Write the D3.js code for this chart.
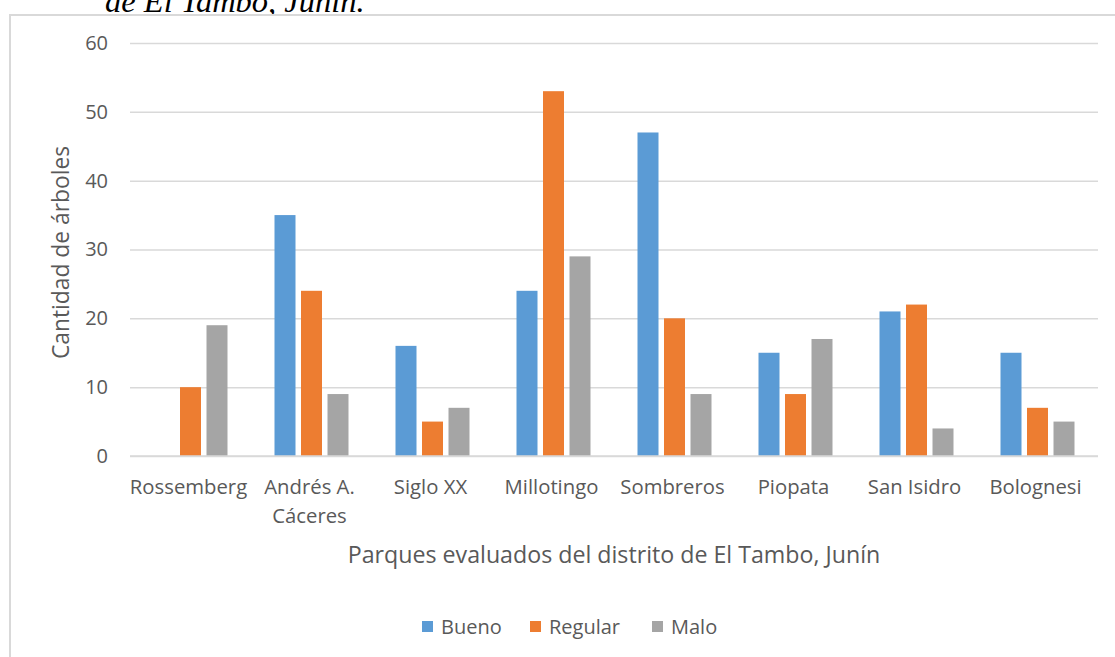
<!DOCTYPE html>
<html>
<head>
<meta charset="utf-8">
<script src="https://cdn.jsdelivr.net/npm/d3@7"></script>
<style>
  html, body { margin: 0; padding: 0; background: #fff; }
  svg { display: block; }
</style>
</head>
<body>
<svg id="chart" width="1115" height="657"></svg>
<script>
// Parks evaluated and tree condition counts
const categories = ["Rossemberg", "Andrés A. Cáceres", "Siglo XX", "Millotingo", "Sombreros", "Piopata", "San Isidro", "Bolognesi"];
const categoryLines = [["Rossemberg"], ["Andrés A.", "Cáceres"], ["Siglo XX"], ["Millotingo"], ["Sombreros"], ["Piopata"], ["San Isidro"], ["Bolognesi"]];
const seriesNames = ["Bueno", "Regular", "Malo"];
const bueno   = [0, 35, 16, 24, 47, 15, 21, 15];
const regular = [10, 24, 5, 53, 20, 9, 22, 7];
const malo    = [19, 9, 7, 29, 9, 17, 4, 5];
const yTicks = [0, 10, 20, 30, 40, 50, 60];
const colors = ["#5B9BD5", "#ED7D31", "#A5A5A5"];

const seriesValues = [bueno, regular, malo];
const svg = d3.select("#chart");
const font = "'Open Sans', sans-serif";
const textColor = "#595959";

// Caption fragment above the chart frame
svg.append("text")
  .attr("x", 105).attr("y", 12)
  .attr("font-family", "'Liberation Serif', 'Times New Roman', serif")
  .attr("font-style", "italic")
  .attr("font-size", 32.5)
  .attr("fill", "#000")
  .text("de El Tambo, Junín.");

// Chart frame
svg.append("rect")
  .attr("x", 10).attr("y", 15)
  .attr("width", 1125).attr("height", 660)
  .attr("fill", "#fff")
  .attr("stroke", "#D9D9D9").attr("stroke-width", 2);

const plot = { left: 130, right: 1098, top: 43, bottom: 456 };

const x = d3.scaleBand().domain(categories).range([plot.left, plot.right]).padding(0);
const y = d3.scaleLinear().domain([0, 60]).range([plot.bottom, plot.top]);

// Gridlines + y labels via axis
const yAxis = d3.axisLeft(y).tickValues(yTicks).tickSize(-(plot.right - plot.left)).tickPadding(22);
const gy = svg.append("g").attr("transform", `translate(${plot.left},0)`).call(yAxis);
gy.select(".domain").remove();
gy.selectAll(".tick line").attr("stroke", "#D9D9D9").attr("stroke-width", 1.5);
gy.selectAll(".tick text")
  .attr("font-family", font).attr("font-size", 20).attr("fill", textColor);

// Bars
const barW = 21;
const step = 26.5;
seriesValues.forEach((vals, si) => {
  svg.append("g").selectAll("rect")
    .data(vals.map((v, i) => ({ v, c: categories[i] })))
    .join("rect")
    .attr("x", d => x(d.c) + x.bandwidth() / 2 + (si - 1) * step - barW / 2)
    .attr("y", d => y(d.v))
    .attr("width", barW)
    .attr("height", d => y(0) - y(d.v))
    .attr("fill", colors[si]);
});

// Baseline redraw over bars
svg.append("line")
  .attr("x1", plot.left).attr("x2", plot.right)
  .attr("y1", y(0)).attr("y2", y(0))
  .attr("stroke", "#D9D9D9").attr("stroke-width", 1.5);

// X category labels
const xl = svg.append("g");
categories.forEach((c, i) => {
  const t = xl.append("text")
    .attr("x", x(c) + x.bandwidth() / 2 - 2)
    .attr("y", 494)
    .attr("text-anchor", "middle")
    .attr("font-family", font).attr("font-size", 20.3).attr("fill", textColor);
  categoryLines[i].forEach((line, li) => {
    t.append("tspan").attr("x", x(c) + x.bandwidth() / 2 - 2).attr("dy", li === 0 ? 0 : 29).text(line);
  });
});

// Axis titles
svg.append("text")
  .attr("transform", `translate(69,${(plot.top + plot.bottom) / 2 + 3}) rotate(-90)`)
  .attr("text-anchor", "middle")
  .attr("font-family", font).attr("font-size", 22.8).attr("fill", textColor)
  .text("Cantidad de árboles");

svg.append("text")
  .attr("x", 614).attr("y", 563)
  .attr("text-anchor", "middle")
  .attr("font-family", font).attr("font-size", 23.2).attr("fill", textColor)
  .text("Parques evaluados del distrito de El Tambo, Junín");

// Legend
const legendX = [422, 530, 652];
const legend = svg.append("g");
seriesNames.forEach((name, i) => {
  legend.append("rect")
    .attr("x", legendX[i]).attr("y", 621)
    .attr("width", 11).attr("height", 11)
    .attr("fill", colors[i]);
  legend.append("text")
    .attr("x", legendX[i] + 19).attr("y", 634)
    .attr("font-family", font).attr("font-size", 20).attr("fill", textColor)
    .text(name);
});
</script>
</body>
</html>
